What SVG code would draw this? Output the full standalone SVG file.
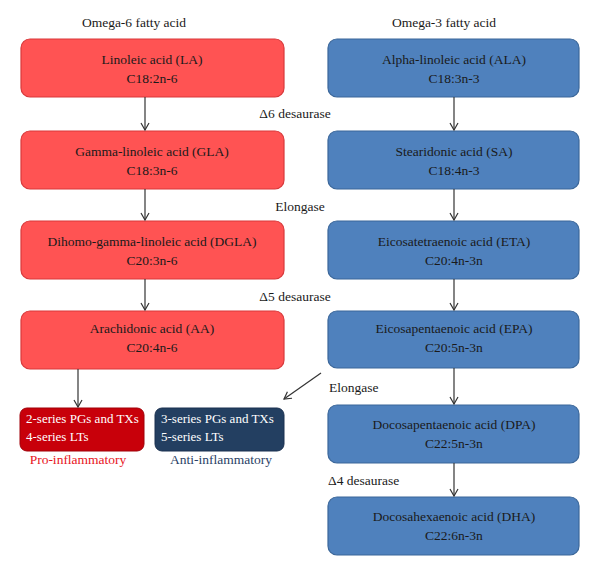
<svg xmlns="http://www.w3.org/2000/svg" width="600" height="576" viewBox="0 0 600 576">
<style>
text{font-family:"Liberation Serif","DejaVu Serif",serif;font-size:13.5px;fill:#1a1a1a}
.c{text-anchor:middle}
.red{fill:#ff5353;stroke:#d9393b;stroke-width:1.2}
.blue{fill:#4f81bd;stroke:#3b679a;stroke-width:1.2}
.dred{fill:#c8000a;stroke:#a00008;stroke-width:1}
.dblue{fill:#233f61;stroke:#1b3150;stroke-width:1}
.w{fill:#ffffff;font-size:13px}
.ln{stroke:#333;stroke-width:1.2;fill:none}
</style>
<defs>
<marker id="ah" markerWidth="10" markerHeight="10" refX="8" refY="5" orient="auto" markerUnits="userSpaceOnUse">
<path d="M1,1 L8,5 L1,9" fill="none" stroke="#333" stroke-width="1.2"/>
</marker>
</defs>
<text class="c" x="134" y="27">Omega-6 fatty acid</text>
<text class="c" x="444" y="27">Omega-3 fatty acid</text>
<g id="LA"><rect class="red" x="21" y="39" width="263" height="58" rx="9"/><text class="c" x="152" y="64">Linoleic acid (LA)</text><text class="c" x="152" y="83">C18:2n-6</text></g>
<g id="GLA"><rect class="red" x="21" y="131" width="263" height="58" rx="9"/><text class="c" x="152" y="156">Gamma-linoleic acid (GLA)</text><text class="c" x="152" y="175">C18:3n-6</text></g>
<g id="DGLA"><rect class="red" x="21" y="221" width="263" height="58" rx="9"/><text class="c" x="152" y="246">Dihomo-gamma-linoleic acid (DGLA)</text><text class="c" x="152" y="265">C20:3n-6</text></g>
<g id="AA"><rect class="red" x="21" y="311" width="263" height="58" rx="9"/><text class="c" x="152" y="333">Arachidonic acid (AA)</text><text class="c" x="152" y="352">C20:4n-6</text></g>
<g id="ALA"><rect class="blue" x="328" y="39" width="251" height="58" rx="9"/><text class="c" x="454" y="64">Alpha-linoleic acid (ALA)</text><text class="c" x="454" y="83">C18:3n-3</text></g>
<g id="SA"><rect class="blue" x="328" y="131" width="251" height="58" rx="9"/><text class="c" x="454" y="156">Stearidonic acid (SA)</text><text class="c" x="454" y="175">C18:4n-3</text></g>
<g id="ETA"><rect class="blue" x="328" y="221" width="251" height="58" rx="9"/><text class="c" x="454" y="246">Eicosatetraenoic acid (ETA)</text><text class="c" x="454" y="265">C20:4n-3n</text></g>
<g id="EPA"><rect class="blue" x="328" y="311" width="251" height="57" rx="9"/><text class="c" x="454" y="333">Eicosapentaenoic acid (EPA)</text><text class="c" x="454" y="352">C20:5n-3n</text></g>
<g id="DPA"><rect class="blue" x="328" y="405" width="251" height="58" rx="9"/><text class="c" x="454" y="429">Docosapentaenoic acid (DPA)</text><text class="c" x="454" y="448">C22:5n-3n</text></g>
<g id="DHA"><rect class="blue" x="328" y="497" width="251" height="58" rx="9"/><text class="c" x="454" y="521">Docosahexaenoic acid (DHA)</text><text class="c" x="454" y="540">C22:6n-3n</text></g>
<g id="pro"><rect class="dred" x="20" y="408" width="124" height="43" rx="7"/><text class="w" x="26" y="423">2-series PGs and TXs</text><text class="w" x="26" y="441">4-series LTs</text><text class="c" x="78" y="464" style="fill:#e8141c">Pro-inflammatory</text></g>
<g id="anti"><rect class="dblue" x="155" y="408" width="129" height="43" rx="7"/><text class="w" x="161" y="423">3-series PGs and TXs</text><text class="w" x="161" y="441">5-series LTs</text><text class="c" x="221" y="464" style="fill:#2a3f66">Anti-inflammatory</text></g>
<g id="enzymes">
<text class="c" x="295" y="118">Δ6 desaurase</text>
<text class="c" x="300" y="211">Elongase</text>
<text class="c" x="295" y="301">Δ5 desaurase</text>
<text x="329" y="392">Elongase</text>
<text x="328" y="485">Δ4 desaurase</text>
</g>
<g id="connectors">
<line class="ln" x1="145" y1="97" x2="145" y2="130" marker-end="url(#ah)"/>
<line class="ln" x1="145" y1="189" x2="145" y2="220" marker-end="url(#ah)"/>
<line class="ln" x1="145" y1="279" x2="145" y2="310" marker-end="url(#ah)"/>
<line class="ln" x1="78" y1="369" x2="78" y2="407" marker-end="url(#ah)"/>
<line class="ln" x1="454" y1="97" x2="454" y2="130" marker-end="url(#ah)"/>
<line class="ln" x1="454" y1="189" x2="454" y2="220" marker-end="url(#ah)"/>
<line class="ln" x1="454" y1="279" x2="454" y2="310" marker-end="url(#ah)"/>
<line class="ln" x1="454" y1="368" x2="454" y2="404" marker-end="url(#ah)"/>
<line class="ln" x1="454" y1="463" x2="454" y2="496" marker-end="url(#ah)"/>
<line class="ln" x1="321" y1="373" x2="284" y2="399" marker-end="url(#ah)"/>
</g>
</svg>
